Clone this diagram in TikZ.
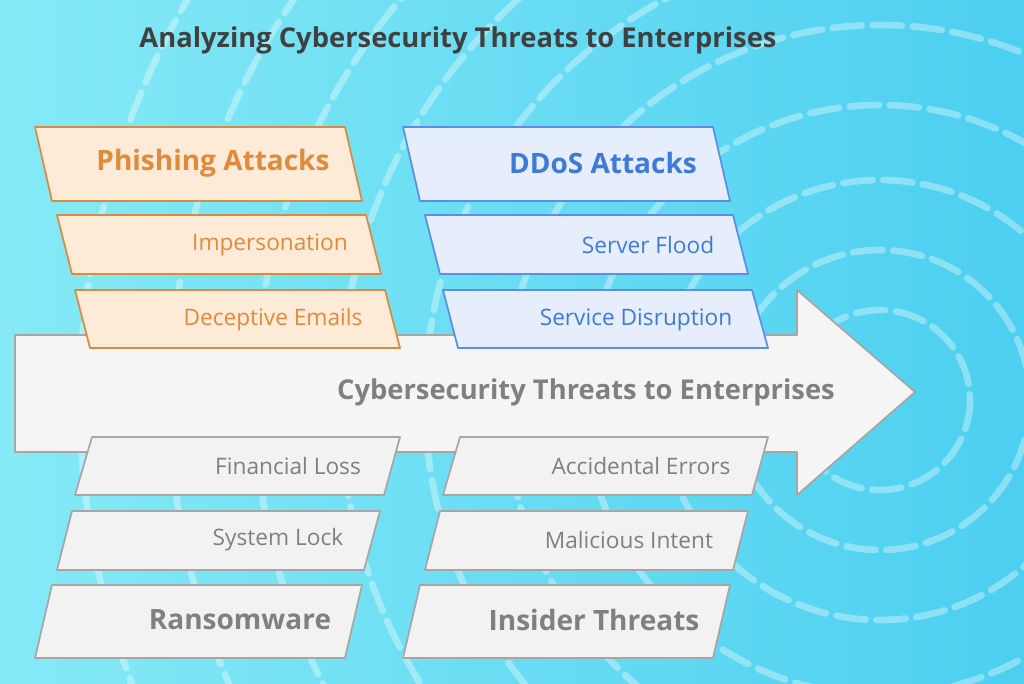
\documentclass[tikz,border=0pt]{standalone}
\usepackage{fontspec}
\setmainfont{Open Sans}
\begin{document}
\begin{tikzpicture}[x=0.75pt,y=-0.75pt,
  pbox/.style={line width=1.3pt, line join=round},
  orbox/.style={pbox, draw=orD, fill=orF},
  blbox/.style={pbox, draw=blD, fill=blF},
  grbox/.style={pbox, draw=gray!70, fill=gray!10},
  orh/.style={font=\bfseries\fontsize{21}{24}\selectfont, text=orT},
  ors/.style={font=\fontsize{17}{20}\selectfont, text=orT},
  blh/.style={font=\bfseries\fontsize{21}{24}\selectfont, text=blT},
  bls/.style={font=\fontsize{17}{20}\selectfont, text=blT},
  grh/.style={font=\bfseries\fontsize{21}{24}\selectfont, text=gray},
  grs/.style={font=\fontsize{17}{20}\selectfont, text=gray},
  ring/.style={white, opacity=0.35, line width=5pt, dash pattern=on 22pt off 8pt, line cap=round}]
\definecolor{bgA}{HTML}{86EAF6}
\definecolor{bgB}{HTML}{4CCFF0}
\definecolor{orD}{HTML}{D98C3E}
\definecolor{orF}{HTML}{FDEBD8}
\definecolor{orT}{HTML}{E08A3C}
\definecolor{blD}{HTML}{5B8EE6}
\definecolor{blF}{HTML}{E6EEFC}
\definecolor{blT}{HTML}{3F7AD9}
\useasboundingbox (0,0) rectangle (1024,683);
\begin{scope}
\clip (0,0) rectangle (1024,683);
\shade[left color=bgA, right color=bgB] (0,0) rectangle (1024,683);
\foreach \r in {90,150,220,295,375,455,540,625,710,800}
  \draw[ring] (880,400) circle[radius=\r];
\end{scope}
\node[font=\bfseries\fontsize{20.5}{24}\selectfont, text=black!75] (title) at (458,40) {Analyzing Cybersecurity Threats to Enterprises};
% arrow
\draw[grbox, fill=gray!8] (15,335) -- (797,335) -- (797,290) -- (915,392) -- (797,495) -- (797,452) -- (15,452) -- cycle;
\node[grh, font=\bfseries\fontsize{20.5}{24}\selectfont] (center) at (586,392) {Cybersecurity Threats to Enterprises};
% orange
\draw[orbox] (35,127) -- (345,127) -- (362,201) -- (52,201) -- cycle;
\draw[orbox] (57,215) -- (366,215) -- (381,274) -- (72,274) -- cycle;
\draw[orbox] (75,290) -- (385,290) -- (400,348) -- (90,348) -- cycle;
\node[orh] (phish) at (213,163) {Phishing Attacks};
\node[ors] (imp) at (270,245) {Impersonation};
\node[ors] (dec) at (273,320) {Deceptive Emails};
% blue
\draw[blbox] (403,127) -- (713,127) -- (730,201) -- (420,201) -- cycle;
\draw[blbox] (425,215) -- (733,215) -- (748,274) -- (440,274) -- cycle;
\draw[blbox] (443,290) -- (752,290) -- (768,348) -- (458,348) -- cycle;
\node[blh] (ddos) at (603,163) {DDoS Attacks};
\node[bls] (flood) at (648,245) {Server Flood};
\node[bls] (disr) at (636,320) {Service Disruption};
% gray left
\draw[grbox] (92,437) -- (400,437) -- (384,495) -- (75,495) -- cycle;
\draw[grbox] (72,511) -- (380,511) -- (364,570) -- (57,570) -- cycle;
\draw[grbox] (52,585) -- (362,585) -- (345,658) -- (35,658) -- cycle;
\node[grs] (fin) at (288,466) {Financial Loss};
\node[grs] (lock) at (278,540) {System Lock};
\node[grh] (ransom) at (240,620) {Ransomware};
% gray right
\draw[grbox] (460,437) -- (768,437) -- (752,495) -- (443,495) -- cycle;
\draw[grbox] (440,511) -- (748,511) -- (733,570) -- (425,570) -- cycle;
\draw[grbox] (420,585) -- (730,585) -- (713,658) -- (403,658) -- cycle;
\node[grs] (acc) at (641,466) {Accidental Errors};
\node[grs] (mal) at (629,540) {Malicious Intent};
\node[grh] (insider) at (594,620) {Insider Threats};
\end{tikzpicture}
\end{document}
